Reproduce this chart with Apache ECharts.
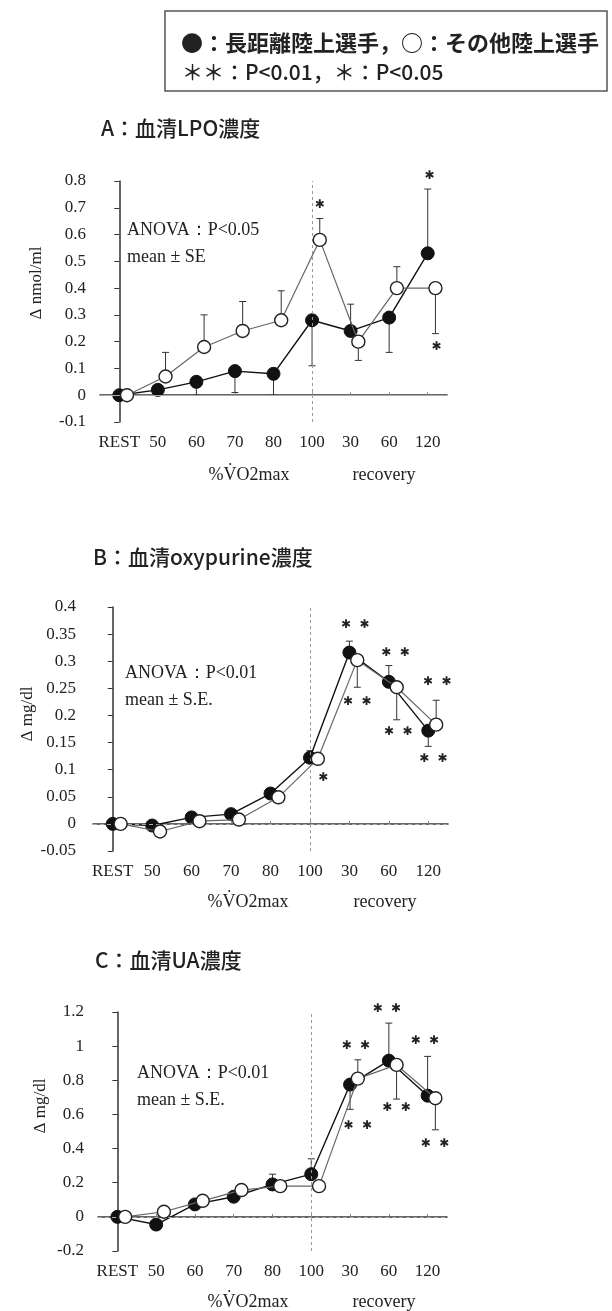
<!DOCTYPE html>
<html>
<head>
<meta charset="utf-8">
<script src="https://cdn.jsdelivr.net/npm/echarts@6/dist/echarts.min.js"></script>
<style>
html,body{margin:0;padding:0;background:#fff;}
#chart{width:612px;height:1311px;}
</style>
</head>
<body>
<div id="chart"></div>
<script>
// ---- data ----
const categories = ['REST', '50', '60', '70', '80', '100', '30', '60', '120'];

// Panel A: serum LPO (Δ nmol/ml)
const aBlack = [0, 0.02, 0.05, 0.09, 0.08, 0.28, 0.24, 0.29, 0.53];
const aBlackErrEnd = [null, null, 0.0, 0.01, 0.0, 0.11, 0.34, 0.16, 0.77];
const aOpen = [0, 0.07, 0.18, 0.24, 0.28, 0.58, 0.20, 0.40, 0.40];
const aOpenErrEnd = [null, 0.16, 0.30, 0.35, 0.39, 0.66, 0.13, 0.48, 0.23];
const aStars = [[5.2, 0.71, 1], [8.05, 0.82, 1], [8.23, 0.18, 1]];

// Panel B: serum oxypurine (Δ mg/dl)
const bBlack = [0, -0.003, 0.012, 0.018, 0.056, 0.122, 0.316, 0.262, 0.172];
const bBlackErrEnd = [null, null, null, null, null, 0.135, 0.337, 0.292, 0.143];
const bOpen = [0, -0.014, 0.005, 0.008, 0.049, 0.12, 0.302, 0.252, 0.183];
const bOpenErrEnd = [null, null, null, null, 0.04, null, 0.252, 0.192, 0.228];
const bStars = [[6.15, 0.367, 2], [6.2, 0.225, 2], [7.17, 0.316, 2], [7.24, 0.169, 2],
                [8.23, 0.262, 2], [8.13, 0.119, 2], [5.34, 0.084, 1]];

// Panel C: serum UA (Δ mg/dl)
const cBlack = [0, -0.045, 0.073, 0.118, 0.19, 0.25, 0.775, 0.915, 0.71];
const cBlackErrEnd = [null, null, null, null, 0.25, 0.34, 0.63, 1.135, 0.94];
const cOpen = [0, 0.03, 0.094, 0.157, 0.18, 0.18, 0.81, 0.89, 0.695];
const cOpenErrEnd = [null, null, null, null, null, null, 0.92, 0.69, 0.51];
const cStars = [[6.15, 1.0, 2], [6.2, 0.535, 2], [6.95, 1.22, 2], [7.2, 0.64, 2],
                [7.93, 1.03, 2], [8.19, 0.43, 2]];

const yTicksA = {min: -0.1, max: 0.8, interval: 0.1};
const yTicksB = {min: -0.05, max: 0.4, interval: 0.05};
const yTicksC = {min: -0.2, max: 1.2, interval: 0.2};

// ---- styling ----
const SERIF = "'Liberation Serif','DejaVu Serif',serif";
const GOTHIC = "'Noto Sans CJK JP','Noto Sans',sans-serif";
const OPEN_OFFSET = 0.2;

const panels = [
  {grid: {left: 100, top: 181, width: 347, height: 241}, y: yTicksA, labelMargin: 14,
   black: aBlack, blackErr: aBlackErrEnd, open: aOpen, openErr: aOpenErrEnd, stars: aStars, zeroDashed: false},
  {grid: {left: 93, top: 607, width: 355, height: 244}, y: yTicksB, labelMargin: 17,
   black: bBlack, blackErr: bBlackErrEnd, open: bOpen, openErr: bOpenErrEnd, stars: bStars, zeroDashed: true},
  {grid: {left: 98, top: 1012, width: 349, height: 239}, y: yTicksC, labelMargin: 14,
   black: cBlack, blackErr: cBlackErrEnd, open: cOpen, openErr: cOpenErrEnd, stars: cStars, zeroDashed: true}
];

const grid = [], xAxis = [], yAxis = [], series = [];

function errRender(params, api) {
  const x = api.value(0), y = api.value(1), e = api.value(2);
  const p0 = api.coord([x, y]);
  const p1 = api.coord([x, e]);
  const st = {stroke: '#333', lineWidth: 1};
  return {type: 'group', children: [
    {type: 'line', shape: {x1: p0[0], y1: p0[1], x2: p1[0], y2: p1[1]}, style: st},
    {type: 'line', shape: {x1: p1[0] - 3.5, y1: p1[1], x2: p1[0] + 3.5, y2: p1[1]}, style: st}
  ]};
}
function starRender(params, api) {
  const p = api.coord([api.value(0), api.value(1)]);
  const n = api.value(2);
  return {type: 'text', x: p[0], y: p[1], style: {
    text: n === 2 ? '\u2731  \u2731' : '\u2731', fill: '#222',
    font: 'bold 12px "DejaVu Sans", sans-serif', align: 'center', verticalAlign: 'middle'}};
}

panels.forEach((p, k) => {
  grid.push(p.grid);
  xAxis.push({
    type: 'category', gridIndex: k, data: categories, boundaryGap: true,
    axisLine: {lineStyle: {color: '#333', width: 1.5}},
    axisTick: {show: true, inside: true, alignWithLabel: true, length: 3, lineStyle: {color: '#888'}},
    axisLabel: {color: '#222', fontFamily: SERIF, fontSize: 17, margin: 12, interval: 0},
    splitLine: {show: false}
  });
  xAxis.push({type: 'value', gridIndex: k, min: -0.5, max: 8.5, show: false, splitLine: {show: false}});
  yAxis.push({
    type: 'value', gridIndex: k, min: p.y.min, max: p.y.max, interval: p.y.interval,
    axisLine: {show: true, lineStyle: {color: '#333', width: 1.5}},
    axisTick: {show: true, length: 5, lineStyle: {color: '#333'}},
    axisLabel: {color: '#222', fontFamily: SERIF, fontSize: 17, margin: p.labelMargin},
    splitLine: {show: false}
  });
  const xv = 2 * k + 1;
  const errData = (vals, ends, off) => vals.map((v, i) => [i + off, v, ends[i]]).filter(d => d[2] !== null);
  series.push({
    type: 'custom', xAxisIndex: xv, yAxisIndex: k, renderItem: errRender, z: 2, silent: true,
    data: errData(p.black, p.blackErr, 0)
  });
  series.push({
    type: 'custom', xAxisIndex: xv, yAxisIndex: k, renderItem: errRender, z: 2, silent: true,
    data: errData(p.open, p.openErr, OPEN_OFFSET)
  });
  series.push({
    type: 'line', xAxisIndex: xv, yAxisIndex: k, z: 4, silent: true,
    data: p.black.map((v, i) => [i, v]),
    symbol: 'circle', symbolSize: 13,
    lineStyle: {color: '#111', width: 1.4},
    itemStyle: {color: '#111', borderColor: '#111', borderWidth: 1},
    markLine: {
      silent: true, symbol: ['none', 'none'], label: {show: false},
      data: [
        {xAxis: 5, lineStyle: {color: '#999', width: 1, type: [3, 3]}},
        {yAxis: 0, lineStyle: {color: '#aaa', width: 1, type: p.zeroDashed ? [4, 3] : 'solid'}}
      ]
    }
  });
  series.push({
    type: 'line', xAxisIndex: xv, yAxisIndex: k, z: 5, silent: true,
    data: p.open.map((v, i) => [i + OPEN_OFFSET, v]),
    symbol: 'circle', symbolSize: 13,
    lineStyle: {color: '#666', width: 1.2},
    itemStyle: {color: '#fff', borderColor: '#222', borderWidth: 1.4}
  });
  series.push({
    type: 'custom', xAxisIndex: xv, yAxisIndex: k, z: 6, silent: true, clip: false,
    renderItem: starRender,
    data: p.stars
  });
});

function txt(x, y, text, font, opts) {
  return {type: 'text', x: x, y: y, silent: true,
    style: Object.assign({text: text, font: font, fill: '#222', align: 'left', verticalAlign: 'middle'}, opts || {})};
}
function rotTxt(x, y, text) {
  return {type: 'text', x: x, y: y, rotation: Math.PI / 2, silent: true,
    style: {text: text, font: '17px ' + SERIF, fill: '#222', align: 'center', verticalAlign: 'middle'}};
}

const graphic = [
  {type: 'rect', shape: {x: 165, y: 11, width: 442, height: 80}, silent: true,
   style: {fill: '#fff', stroke: '#555', lineWidth: 1.5}},
  txt(181, 43, '●：長距離陸上選手，○：その他陸上選手', 'bold 22px ' + GOTHIC),
  txt(182, 72, '＊＊：P<0.01，＊：P<0.05', '500 21px ' + GOTHIC),

  txt(101, 128, 'A：血清LPO濃度', '500 21px ' + GOTHIC),
  txt(93, 557, 'B：血清oxypurine濃度', '500 21px ' + GOTHIC),
  txt(95, 960, 'C：血清UA濃度', '500 21px ' + GOTHIC),

  txt(127, 230, 'ANOVA：P<0.05', '18px ' + SERIF),
  txt(127, 257, 'mean ± SE', '18px ' + SERIF),
  txt(125, 673, 'ANOVA：P<0.01', '18px ' + SERIF),
  txt(125, 700, 'mean ± S.E.', '18px ' + SERIF),
  txt(137, 1073, 'ANOVA：P<0.01', '18px ' + SERIF),
  txt(137, 1100, 'mean ± S.E.', '18px ' + SERIF),

  txt(249, 475, '%V\u0307O2max', '18px ' + SERIF, {align: 'center'}),
  txt(384, 475, 'recovery', '18px ' + SERIF, {align: 'center'}),
  txt(248, 902, '%V\u0307O2max', '18px ' + SERIF, {align: 'center'}),
  txt(385, 902, 'recovery', '18px ' + SERIF, {align: 'center'}),
  txt(248, 1302, '%V\u0307O2max', '18px ' + SERIF, {align: 'center'}),
  txt(384, 1302, 'recovery', '18px ' + SERIF, {align: 'center'}),

  rotTxt(37, 283, 'Δ nmol/ml'),
  rotTxt(28, 714, 'Δ mg/dl'),
  rotTxt(41, 1106, 'Δ mg/dl')
];

const chart = echarts.init(document.getElementById('chart'), null, {renderer: 'canvas'});
chart.setOption({
  backgroundColor: '#fff',
  animation: false,
  grid: grid, xAxis: xAxis, yAxis: yAxis, series: series, graphic: graphic
});
</script>
</body>
</html>
